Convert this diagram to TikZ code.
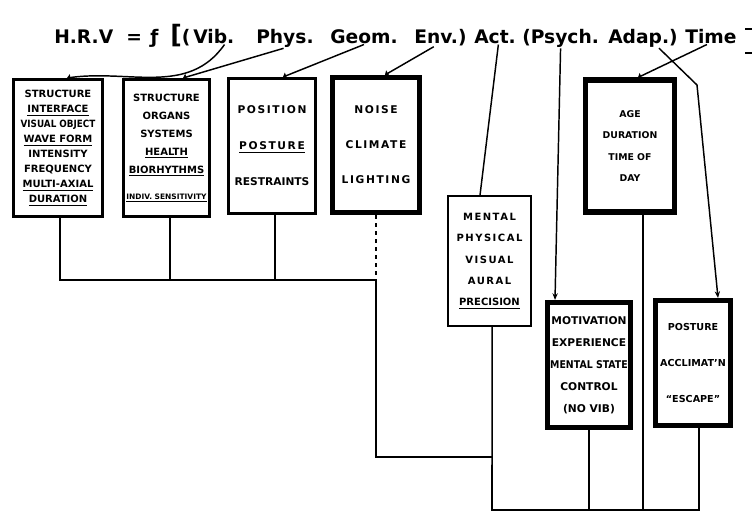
\documentclass[tikz,border=0pt]{standalone}
\usepackage{fontspec}
\setmainfont{DejaVu Sans}
\usetikzlibrary{arrows.meta}

\newcommand{\boxfont}[2]{\bfseries\fontsize{#1}{#2}\selectfont}
\newcommand{\wide}[1]{{\addfontfeatures{LetterSpace=15}#1}}
\newcommand{\wee}[1]{{\fontsize{5.6}{6}\selectfont #1}}
\newcommand{\squeeze}[1]{\scalebox{0.88}[1]{#1}}

\tikzset{
	panel/.style={draw, line width=2.2pt, inner sep=0pt, align=center, font=\boxfont#1},
	heavy/.style={panel=#1, line width=3.8pt},
	word/.style={anchor=base west, inner sep=0pt, font=\bfseries\fontsize{14}{18}\selectfont},
	lead/.style={line width=1.1pt},
	tip/.style={lead, -{Stealth[length=5pt,width=4pt]}},
	stub/.style={lead, -{Triangle[length=2.5pt,width=5pt]}},
	tree/.style={line width=1.2pt},
}

\begin{document}
\begin{tikzpicture}[x=0.75pt,y=-0.75pt]
	\useasboundingbox (0,0) rectangle (752,513);

	% the formula
	\node[word] (hrv) at (54,44) {H.R.V};
	\node[word] (eq) at (126,44) {=};
	\node[word] (fn) at (150,44) {ƒ};
	\node[word] (open) at (170,44) {{\fontsize{19}{19}\selectfont[}(};
	\node[word] (vib) at (193,44) {Vib.};
	\node[word] (phys) at (256,44) {Phys.};
	\node[word] (geom) at (330,44) {Geom.};
	\node[word] (env) at (414,44) {Env.)};
	\node[word] (act) at (474,44) {Act.};
	\node[word] (psych) at (522,44) {(Psych.};
	\node[word] (adap) at (608,44) {Adap.)};
	\node[word] (time) at (685,44) {Time};
	\draw[line width=1.5pt] (745,29) -- (752,29);
	\draw[line width=1.5pt] (745,53) -- (752,53);

	% the boxes
	\node[panel={{7.5}{11.25}}, minimum width=66.8pt, minimum height=102.8pt] (vibbox) at (58,148)
		{STRUCTURE\\ \underline{INTERFACE}\\ \squeeze{VISUAL OBJECT}\\ \underline{WAVE FORM}\\ INTENSITY\\ FREQUENCY\\ \underline{MULTI-AXIAL}\\ \underline{DURATION}};
	\node[panel={{7.5}{13.5}}, minimum width=64.5pt, minimum height=102.8pt] (physbox) at (166.5,148)
		{STRUCTURE\\ ORGANS\\ SYSTEMS\\ \underline{HEALTH}\\ \underline{BIORHYTHMS}\\[6pt] \wee{\underline{INDIV. SENSITIVITY}}};
	\node[panel={{8}{27}}, minimum width=65.3pt, minimum height=101.3pt] (geombox) at (272,146)
		{\wide{POSITION}\\ \underline{\wide{POSTURE}}\\ RESTRAINTS};
	\node[heavy={{8}{26.25}}, minimum width=65.3pt, minimum height=101.3pt] (envbox) at (376,145)
		{\wide{NOISE}\\ \wide{CLIMATE}\\ \wide{LIGHTING}};
	\node[panel={{7.5}{16}}, line width=1.6pt, minimum width=62.3pt, minimum height=97.5pt] (actbox) at (489.5,261)
		{\wide{MENTAL}\\ \wide{PHYSICAL}\\ \wide{VISUAL}\\ \wide{AURAL}\\ \underline{PRECISION}};
	\node[heavy={{7}{16}}, minimum width=66.8pt, minimum height=99pt] (timebox) at (630,146)
		{AGE\\ DURATION\\ TIME OF\\ DAY};
	\node[heavy={{8}{16.5}}, minimum width=62.3pt, minimum height=93.8pt] (psychbox) at (589,365)
		{MOTIVATION\\ EXPERIENCE\\ \squeeze{MENTAL STATE}\\ CONTROL\\ (NO VIB)};
	\node[heavy={{7.2}{27}}, minimum width=56.3pt, minimum height=93.8pt] (adapbox) at (693,363)
		{POSTURE\\ ACCLIMAT'N\\ ``ESCAPE''};

	% leads from the formula
	\draw[stub] ([xshift=-7.5pt]vib.south east) to[out=-125,in=8] ([xshift=6.75pt]vibbox.north);
	\draw[stub] ([xshift=-1pt]phys.south) -- ([xshift=12.4pt]physbox.north);
	\draw[stub] (geom.south) -- ([xshift=8.25pt]geombox.north);
	\draw[stub] ([xshift=-5pt]env.south) -- ([xshift=6.75pt]envbox.north);
	\draw[lead] ([xshift=2.5pt]act.south) -- ([xshift=-7.1pt]actbox.north);
	\draw[tip] (psych.south) -- ([xshift=-25.5pt]psychbox.north);
	\draw[stub] ([xshift=-3pt]time.south) -- ([xshift=6pt]timebox.north);
	\coordinate (bend) at (697,85);
	\draw[tip] ([xshift=12pt]adap.south) -- (bend) -- ([xshift=18.75pt]adapbox.north);

	% tree below
	\coordinate (j1) at (376,280);
	\coordinate (j2) at (376,457);
	\coordinate (foot) at (492,510);
	\coordinate (adapfoot) at ([xshift=4.5pt]adapbox.south);
	\draw[tree] ([xshift=1.5pt]vibbox.south) |- (j1);
	\draw[tree] ([xshift=2.5pt]physbox.south) -- ([xshift=2.5pt]physbox.south |- j1);
	\draw[tree] ([xshift=2.2pt]geombox.south) -- ([xshift=2.2pt]geombox.south |- j1);
	\draw[tree,dashed] (envbox.south) -- (j1);
	\draw[tree] (j1) -- (j2) -- (j2 -| foot);
	\draw[tree] ([xshift=2pt]actbox.south) -- (foot) -| (adapfoot);
	\draw[tree] (psychbox.south) -- (psychbox.south |- foot);
	\draw[tree] ([xshift=9.75pt]timebox.south) -- ([xshift=9.75pt]timebox.south |- foot);
\end{tikzpicture}
\end{document}
